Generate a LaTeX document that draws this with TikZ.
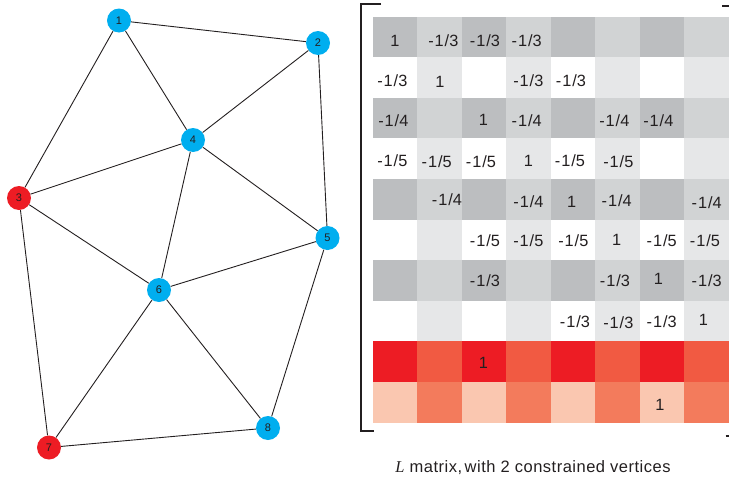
\documentclass[tikz,border=0pt]{standalone}
\usepackage{fontspec}
\setmainfont{Liberation Sans}
\newfontfamily\capserif{Liberation Serif}
\definecolor{inkc}{HTML}{231F20}
\definecolor{vblue}{HTML}{00AEEF}
\definecolor{vred}{HTML}{ED1C24}
\definecolor{gD}{HTML}{BCBEC0}
\definecolor{gL}{HTML}{D1D3D4}
\definecolor{gX}{HTML}{E6E7E8}
\definecolor{rA}{HTML}{ED1C24}
\definecolor{rB}{HTML}{F15A42}
\definecolor{pA}{HTML}{FAC7B0}
\definecolor{pB}{HTML}{F37B5C}
\begin{document}
\begin{tikzpicture}[x=1pt,y=-1pt,
  vertex/.style={circle,minimum size=24pt,inner sep=0pt,text=inkc,
    font=\fontsize{11}{11}\selectfont},
  free/.style={vertex,fill=vblue},
  fixed/.style={vertex,fill=vred},
  edge/.style={draw=inkc,line width=0.9pt},
  entry/.style={anchor=base,inner sep=0pt,text=inkc,
    font=\fontsize{16.3}{16.3}\selectfont\addfontfeature{LetterSpace=6}},
  brack/.style={draw=inkc,line width=2pt}]
\useasboundingbox (0,0) rectangle (729,482);

% ---- mesh graph ----
\node[free]  (n1) at (119,20.5) {1};
\node[free]  (n2) at (318,43)   {2};
\node[fixed] (n3) at (19,198)   {3};
\node[free]  (n4) at (193,140)  {4};
\node[free]  (n5) at (327.5,238){5};
\node[free]  (n6) at (159,290)  {6};
\node[fixed] (n7) at (49,447.5) {7};
\node[free]  (n8) at (268,428)  {8};
\foreach \a/\b in {n1/n2,n1/n3,n1/n4,n2/n4,n2/n5,n3/n4,n3/n6,n3/n7,
                   n4/n5,n4/n6,n5/n6,n5/n8,n6/n7,n6/n8,n7/n8}
  \draw[edge] (\a) -- (\b);

% ---- matrix cells ----
\def\cw{44.5}
\def\rh{40.56}
\foreach \r/\ca/\cb in {1/gD/gL,3/gD/gL,5/gD/gL,7/gD/gL,
                        2/white/gX,4/white/gX,6/white/gX,8/white/gX,
                        9/rA/rB,10/pA/pB}{
  \foreach \c in {1,3,5,7}{
    \fill[\ca] ({372.7+(\c-1)*\cw},{16.7+(\r-1)*\rh}) rectangle +(\cw+0.2,\rh+0.2);
    \fill[\cb] ({372.7+\c*\cw},{16.7+(\r-1)*\rh}) rectangle +(\cw+0.2,\rh+0.2);
  }
}

% ---- matrix entries ----
\foreach \x/\y/\t [count=\i] in {
  395/46.3/1, 443.3/46.3/-1\slash 3, 485/46.3/-1\slash 3, 526.7/46.3/-1\slash 3,
  392.3/86.6/-1\slash 3, 440/87.6/1, 528.3/86.6/-1\slash 3, 571/86.6/-1\slash 3,
  393.3/126.3/-1\slash 4, 483.3/125.5/1, 526.7/126.3/-1\slash 4, 614.3/126.8/-1\slash 4, 658.3/126.8/-1\slash 4,
  392.3/166.3/-1\slash 5, 436.7/167.3/-1\slash 5, 481/167.3/-1\slash 5, 528.3/166.3/1, 570/166.8/-1\slash 5, 618.3/167.3/-1\slash 5,
  447/205.6/-1\slash 4, 528.5/207.6/-1\slash 4, 571.7/207.6/1, 616.7/206.6/-1\slash 4, 706.7/208.3/-1\slash 4,
  485/246.6/-1\slash 5, 528.3/246.6/-1\slash 5, 573.3/246.6/-1\slash 5, 616.7/245.6/1, 661.7/246.6/-1\slash 5, 705/246.6/-1\slash 5,
  485/286.3/-1\slash 3, 615/286.8/-1\slash 3, 658.3/284.1/1, 706.7/286.3/-1\slash 3,
  575/327.3/-1\slash 3, 618.3/328.0/-1\slash 3, 661.7/327.3/-1\slash 3, 703.3/325.6/1,
  483.3/368.9/1,
  660/410.6/1}
  \node[entry] (e\i) at (\x,\y) {\t};

% ---- brackets ----
\draw[brack] (381,4) -- (361,4) -- (361,431.3) -- (374,431.3);
\draw[brack] (722.3,5.7) -- (729,5.7);
\draw[brack] (725.7,435.7) -- (729,435.7);

% ---- caption ----
\node[anchor=base,inner sep=0pt,text=inkc,
  font=\fontsize{16.5}{16.5}\selectfont\addfontfeature{LetterSpace=3}]
  (cap) at (533,472) {{\capserif\itshape L} matrix,\hspace{-0.15em} with 2 constrained vertices};
\end{tikzpicture}
\end{document}
